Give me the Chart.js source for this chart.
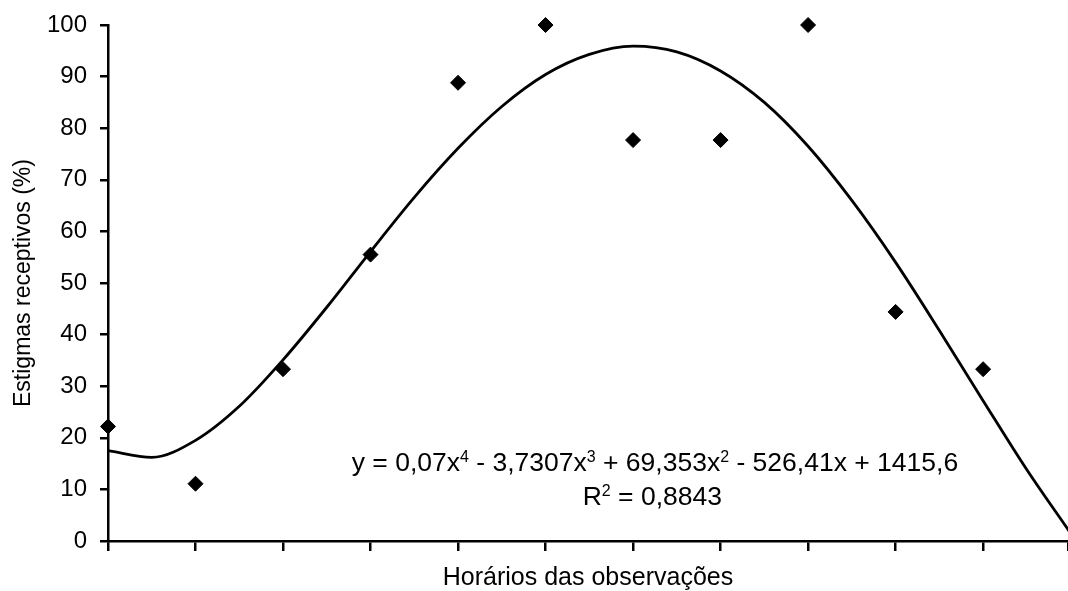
<!DOCTYPE html>
<html>
<head>
<meta charset="utf-8">
<script src="https://cdn.jsdelivr.net/npm/chart.js@4/dist/chart.umd.min.js"></script>
<style>
html,body{margin:0;padding:0;background:#fff;}
#wrap{width:1068px;height:591px;position:relative;}
</style>
</head>
<body>
<div id="wrap"><canvas id="c" width="1068" height="591"></canvas></div>
<script>
// Observation hours (x) and receptive stigmas (%)
const hours = [7, 8, 9, 10, 11, 12, 13, 14, 15, 16, 17];
const receptive = [22.2, 11.1, 33.3, 55.5, 88.8, 100, 77.7, 77.7, 100, 44.4, 33.3];
// Trend line (every half hour)
const trendHours = [7, 7.5, 8, 8.5, 9, 9.5, 10, 10.5, 11, 11.5, 12, 12.5, 13, 13.5, 14, 14.5, 15, 15.5, 16, 16.5, 17, 17.5, 18];
const trendValues = [17.5, 16.2, 19.5, 26.1, 35.1, 45.3, 56.1, 66.6, 76.1, 84.2, 90.4, 94.3, 95.9, 94.8, 91.1, 85.0, 76.5, 66.0, 54.0, 40.8, 27.2, 13.8, 1.5];
const yTicks = [0, 10, 20, 30, 40, 50, 60, 70, 80, 90, 100];
const xTitle = 'Horários das observações';
const yTitle = 'Estigmas receptivos (%)';
const equationParts = [['y = 0,07x', false], ['4', true], [' - 3,7307x', false], ['3', true], [' + 69,353x', false], ['2', true], [' - 526,41x + 1415,6', false]];
const r2Parts = [['R', false], ['2', true], [' = 0,8843', false]];

const FONT = 'Liberation Sans, Arial, sans-serif';

const eqPlugin = {
  id: 'eq',
  afterDatasetsDraw(chart) {
    const ctx = chart.ctx;
    const xs = chart.scales.x, ys = chart.scales.y;
    function drawParts(parts, cxVal, baseVal) {
      const cx = xs.getPixelForValue(cxVal);
      const baseline = ys.getPixelForValue(baseVal);
      const big = '26.5px ' + FONT, small = '16px ' + FONT;
      let w = 0;
      parts.forEach(p => { ctx.font = p[1] ? small : big; w += ctx.measureText(p[0]).width; });
      let x = cx - w / 2;
      ctx.fillStyle = '#000';
      ctx.textAlign = 'left';
      ctx.textBaseline = 'alphabetic';
      parts.forEach(p => {
        ctx.font = p[1] ? small : big;
        ctx.fillText(p[0], x, p[1] ? baseline - 9 : baseline);
        x += ctx.measureText(p[0]).width;
      });
    }
    ctx.save();
    drawParts(equationParts, 13.25, 13.57);
    drawParts(r2Parts, 13.22, 6.98);
    ctx.restore();
  }
};

new Chart(document.getElementById('c'), {
  type: 'scatter',
  data: {
    datasets: [
      {
        type: 'line',
        data: trendHours.map((h, i) => ({x: h, y: trendValues[i]})),
        borderColor: '#000',
        borderWidth: 2.8,
        pointRadius: 0,
        cubicInterpolationMode: 'monotone',
        fill: false,
        order: 2
      },
      {
        data: hours.map((h, i) => ({x: h, y: receptive[i]})),
        pointStyle: 'rectRot',
        pointRadius: 7.5,
        pointBackgroundColor: '#000',
        pointBorderColor: '#000',
        pointBorderWidth: 1,
        clip: false,
        order: 1
      }
    ]
  },
  options: {
    responsive: false,
    animation: false,
    layout: {autoPadding: false, padding: {top: 25, right: 0, left: 0, bottom: 0}},
    plugins: {legend: {display: false}, tooltip: {enabled: false}},
    scales: {
      x: {
        type: 'linear', min: 7, max: 17.97,
        border: {color: '#000', width: 2.5},
        grid: {drawOnChartArea: false, color: '#000', lineWidth: 2.5, tickLength: 10},
        ticks: {stepSize: 1, display: false},
        title: {display: true, text: xTitle, color: '#000', font: {family: FONT, size: 25, lineHeight: 1}, padding: {top: 0, bottom: 0}},
        afterFit(s) { s.height = 50; s.paddingLeft = 0; s.paddingRight = 0; }
      },
      y: {
        min: 0, max: 100,
        border: {color: '#000', width: 2.5},
        grid: {drawOnChartArea: false, color: '#000', lineWidth: 2.5, tickLength: 8},
        afterBuildTicks(s) { s.ticks = yTicks.map(v => ({value: v})); },
        ticks: {color: '#000', padding: 13, font: {family: FONT, size: 24, lineHeight: 1}},
        title: {display: true, text: yTitle, color: '#000', font: {family: FONT, size: 23, lineHeight: 1.2}, padding: {top: 10, bottom: 10}},
        afterFit(s) { s.width = 108; s.paddingTop = 12; s.paddingBottom = 12; }
      }
    }
  },
  plugins: [eqPlugin]
});
</script>
</body>
</html>
